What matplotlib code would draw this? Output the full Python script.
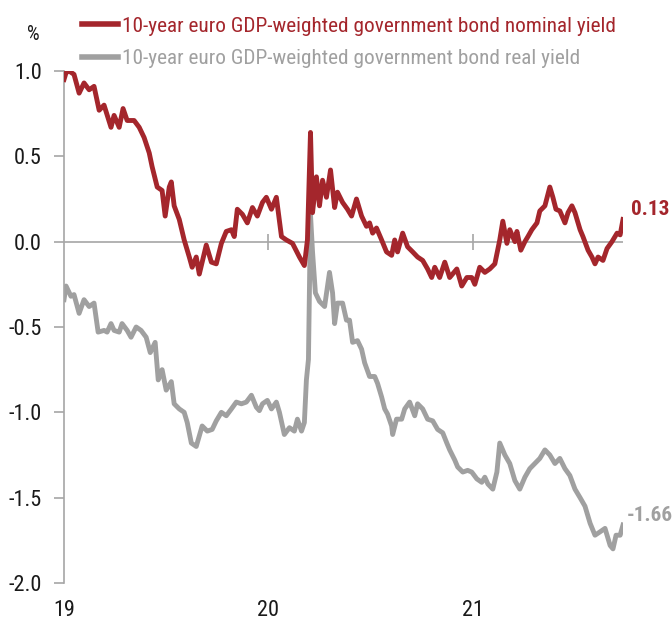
import matplotlib
matplotlib.use("Agg")
import matplotlib.pyplot as plt
from matplotlib import font_manager
import numpy as np

# the reference uses a condensed sans; take a narrow face if one is installed
names = {f.name: f for f in font_manager.fontManager.ttflist}
stretch = "normal"
family = "Roboto" if "Roboto" in names else "DejaVu Sans"
for cand in ["Liberation Sans Narrow", "Roboto Condensed", "Open Sans Condensed",
             "Noto Sans Display"]:
    if cand in names:
        family = cand
        break
else:
    for f in font_manager.fontManager.ttflist:
        if "condensed" in str(f.stretch) or "Condensed" in f.name or "Narrow" in f.name:
            family, stretch = f.name, "condensed"
            break
plt.rcParams["font.family"] = [family, "DejaVu Sans"]
plt.rcParams["font.stretch"] = stretch

RED = "#a4262c"
GREY = "#a0a0a0"
AXIS_GREY = "#a6a6a6"
TEXT = "#1a1a1a"

# decimal years and yields (%)
nominal_t = [
    2019.000, 2019.010, 2019.025, 2019.049, 2019.074, 2019.098, 2019.123, 2019.147,
    2019.172, 2019.196, 2019.230, 2019.245, 2019.270, 2019.289, 2019.309, 2019.343,
    2019.368, 2019.392, 2019.417, 2019.431, 2019.456, 2019.480, 2019.495, 2019.515,
    2019.525, 2019.539, 2019.564, 2019.588, 2019.613, 2019.627, 2019.647, 2019.662,
    2019.676, 2019.696, 2019.721, 2019.745, 2019.770, 2019.794, 2019.819, 2019.833,
    2019.848, 2019.873, 2019.897, 2019.922, 2019.946, 2019.971, 2019.990, 2020.015,
    2020.039, 2020.064, 2020.088, 2020.118, 2020.152, 2020.176, 2020.191, 2020.206,
    2020.216, 2020.235, 2020.250, 2020.265, 2020.284, 2020.304, 2020.324, 2020.338,
    2020.363, 2020.387, 2020.407, 2020.431, 2020.456, 2020.480, 2020.495, 2020.510,
    2020.529, 2020.554, 2020.578, 2020.603, 2020.618, 2020.632, 2020.657, 2020.681,
    2020.706, 2020.730, 2020.755, 2020.779, 2020.799, 2020.814, 2020.838, 2020.863,
    2020.887, 2020.922, 2020.946, 2020.971, 2020.995, 2021.010, 2021.034, 2021.059,
    2021.083, 2021.108, 2021.132, 2021.147, 2021.167, 2021.181, 2021.206, 2021.216,
    2021.235, 2021.255, 2021.270, 2021.289, 2021.314, 2021.328, 2021.353, 2021.377,
    2021.392, 2021.407, 2021.426, 2021.451, 2021.466, 2021.485, 2021.500, 2021.525,
    2021.539, 2021.564, 2021.583, 2021.598, 2021.613, 2021.637, 2021.657, 2021.681,
    2021.706, 2021.721, 2021.735,
]
nominal = [
    0.95, 0.99, 1.00, 0.98, 0.87, 0.93, 0.89, 0.91,
    0.77, 0.80, 0.67, 0.74, 0.67, 0.78, 0.71, 0.71,
    0.67, 0.61, 0.52, 0.44, 0.32, 0.30, 0.15, 0.32,
    0.35, 0.21, 0.13, 0.01, -0.09, -0.15, -0.09, -0.19,
    -0.12, -0.02, -0.12, -0.13, -0.01, 0.06, 0.07, 0.03,
    0.19, 0.16, 0.11, 0.20, 0.15, 0.23, 0.26, 0.19,
    0.26, 0.03, 0.01, -0.01, -0.09, -0.14, 0.01, 0.64,
    0.17, 0.38, 0.21, 0.36, 0.26, 0.42, 0.20, 0.29,
    0.23, 0.19, 0.15, 0.25, 0.15, 0.09, 0.11, 0.05,
    0.08, 0.01, -0.06, -0.08, 0.01, -0.06, 0.05, -0.03,
    -0.06, -0.09, -0.11, -0.16, -0.21, -0.15, -0.21, -0.12,
    -0.21, -0.16, -0.26, -0.21, -0.21, -0.25, -0.15, -0.18,
    -0.16, -0.13, 0.01, 0.12, -0.01, 0.07, 0.00, 0.06,
    -0.05, 0.00, 0.03, 0.07, 0.11, 0.18, 0.21, 0.32,
    0.26, 0.19, 0.18, 0.11, 0.17, 0.21, 0.17, 0.07,
    0.03, -0.05, -0.09, -0.13, -0.09, -0.11, -0.04, 0.00,
    0.05, 0.04, 0.13,
]

real_t = [
    2019.000, 2019.010, 2019.034, 2019.049, 2019.074, 2019.098, 2019.123, 2019.147,
    2019.167, 2019.196, 2019.211, 2019.230, 2019.245, 2019.270, 2019.284, 2019.309,
    2019.328, 2019.353, 2019.377, 2019.402, 2019.422, 2019.446, 2019.461, 2019.480,
    2019.500, 2019.525, 2019.539, 2019.564, 2019.588, 2019.603, 2019.623, 2019.647,
    2019.676, 2019.701, 2019.725, 2019.745, 2019.770, 2019.794, 2019.819, 2019.843,
    2019.868, 2019.892, 2019.917, 2019.941, 2019.956, 2019.971, 2019.995, 2020.015,
    2020.039, 2020.054, 2020.078, 2020.103, 2020.127, 2020.142, 2020.162, 2020.176,
    2020.186, 2020.196, 2020.206, 2020.216, 2020.230, 2020.250, 2020.275, 2020.299,
    2020.314, 2020.324, 2020.338, 2020.363, 2020.382, 2020.397, 2020.412, 2020.436,
    2020.456, 2020.471, 2020.495, 2020.520, 2020.534, 2020.554, 2020.569, 2020.583,
    2020.603, 2020.608, 2020.627, 2020.652, 2020.667, 2020.691, 2020.716, 2020.730,
    2020.755, 2020.779, 2020.804, 2020.828, 2020.853, 2020.873, 2020.887, 2020.912,
    2020.926, 2020.951, 2020.975, 2020.995, 2021.020, 2021.044, 2021.059, 2021.074,
    2021.098, 2021.118, 2021.132, 2021.157, 2021.181, 2021.206, 2021.230, 2021.255,
    2021.279, 2021.328, 2021.353, 2021.377, 2021.402, 2021.426, 2021.451, 2021.475,
    2021.500, 2021.525, 2021.549, 2021.574, 2021.598, 2021.623, 2021.647, 2021.672,
    2021.686, 2021.701, 2021.721, 2021.735,
]
real = [
    -0.34, -0.26, -0.32, -0.31, -0.42, -0.34, -0.38, -0.36,
    -0.53, -0.52, -0.53, -0.48, -0.52, -0.53, -0.48, -0.52,
    -0.56, -0.50, -0.52, -0.56, -0.65, -0.59, -0.81, -0.75,
    -0.87, -0.82, -0.95, -0.98, -1.00, -1.06, -1.18, -1.20,
    -1.08, -1.11, -1.10, -1.05, -1.00, -1.02, -0.98, -0.94,
    -0.95, -0.94, -0.90, -0.97, -0.99, -0.95, -0.93, -0.98,
    -0.94, -1.00, -1.13, -1.09, -1.11, -1.04, -1.11, -1.06,
    -0.81, -0.69, 0.16, -0.06, -0.30, -0.35, -0.38, -0.18,
    -0.30, -0.48, -0.36, -0.36, -0.46, -0.46, -0.59, -0.58,
    -0.63, -0.71, -0.79, -0.79, -0.83, -0.91, -0.98, -1.01,
    -1.08, -1.13, -1.04, -1.04, -0.98, -0.94, -1.02, -0.95,
    -0.98, -1.04, -1.05, -1.10, -1.12, -1.18, -1.22, -1.28,
    -1.32, -1.35, -1.34, -1.35, -1.39, -1.41, -1.38, -1.42,
    -1.45, -1.35, -1.18, -1.25, -1.30, -1.40, -1.45, -1.38,
    -1.33, -1.27, -1.22, -1.25, -1.30, -1.27, -1.33, -1.37,
    -1.45, -1.50, -1.55, -1.65, -1.72, -1.70, -1.68, -1.78,
    -1.80, -1.72, -1.72, -1.66,
]

nominal_label = "10-year euro GDP-weighted government bond nominal yield"
real_label = "10-year euro GDP-weighted government bond real yield"
year_ticks = [2019, 2020, 2021]
year_labels = ["19", "20", "21"]
y_ticks = [-2.0, -1.5, -1.0, -0.5, 0.0, 0.5, 1.0]

fig = plt.figure(figsize=(6.72, 6.24), dpi=100)

# scale all text so the legend line is as wide as in the reference (~493 px)
probe = fig.text(0, 0, nominal_label, fontsize=15.5)
w = probe.get_window_extent(renderer=fig.canvas.get_renderer()).width
probe.remove()
fs = 15.5 * 493.0 / w
em = fs * 100 / 72  # font size in pixels

ax = fig.add_axes([64 / 672, 1 - 583 / 624, (623 - 64) / 672, (583 - 71) / 624])

ax.axhline(0, color=AXIS_GREY, lw=1.2, zorder=1)
ax.plot(year_ticks[1:], [0, 0], ls="none", marker="|", ms=11, mew=1.2,
        color=AXIS_GREY, zorder=1)

ax.plot(nominal_t, nominal, color=RED, lw=3.5, solid_joinstyle="round",
        label=nominal_label, zorder=3)
ax.plot(real_t, real, color=GREY, lw=3.5, solid_joinstyle="round",
        label=real_label, zorder=2)

ax.set_xlim(2019, 2021.735)
ax.set_ylim(-2, 1)
ax.set_yticks(y_ticks)
ax.set_yticklabels([f"{v:.1f}" for v in y_ticks])
ax.set_xticks(year_ticks)
ax.set_xticklabels(year_labels)

for s in ["top", "right", "bottom"]:
    ax.spines[s].set_visible(False)
ax.spines["left"].set_color(AXIS_GREY)
ax.spines["left"].set_linewidth(1.2)
ax.tick_params(axis="y", length=7, width=1.2, color=AXIS_GREY, pad=9,
               labelsize=fs * 1.05, labelcolor=TEXT)
ax.tick_params(axis="x", length=0, pad=12, labelsize=fs * 1.05, labelcolor=TEXT)

fig.text(33 / 672, 1 - 35 / 624, "%", fontsize=fs * 0.95, ha="center",
         va="center", color=TEXT)

ax.annotate(f"{nominal[-1]:.2f}", xy=(nominal_t[-1], nominal[-1]),
            xytext=(6, 7), textcoords="offset points", color=RED,
            fontsize=fs, fontweight="bold", va="center", ha="left",
            annotation_clip=False)
ax.annotate(f"{real[-1]:.2f}", xy=(real_t[-1], real[-1]),
            xytext=(3, 7), textcoords="offset points", color=GREY,
            fontsize=fs, fontweight="bold", va="center", ha="left",
            annotation_clip=False)

leg = fig.legend(loc="upper left", bbox_to_anchor=(68 / 672, 1 - 3 / 624),
                 frameon=False, fontsize=fs, handlelength=36 / em,
                 handletextpad=4 / em, labelspacing=0.62, borderpad=0.15,
                 labelcolor="linecolor")
for h in leg.get_lines():
    h.set_linewidth(4)

fig.savefig("out.png", dpi=100)
